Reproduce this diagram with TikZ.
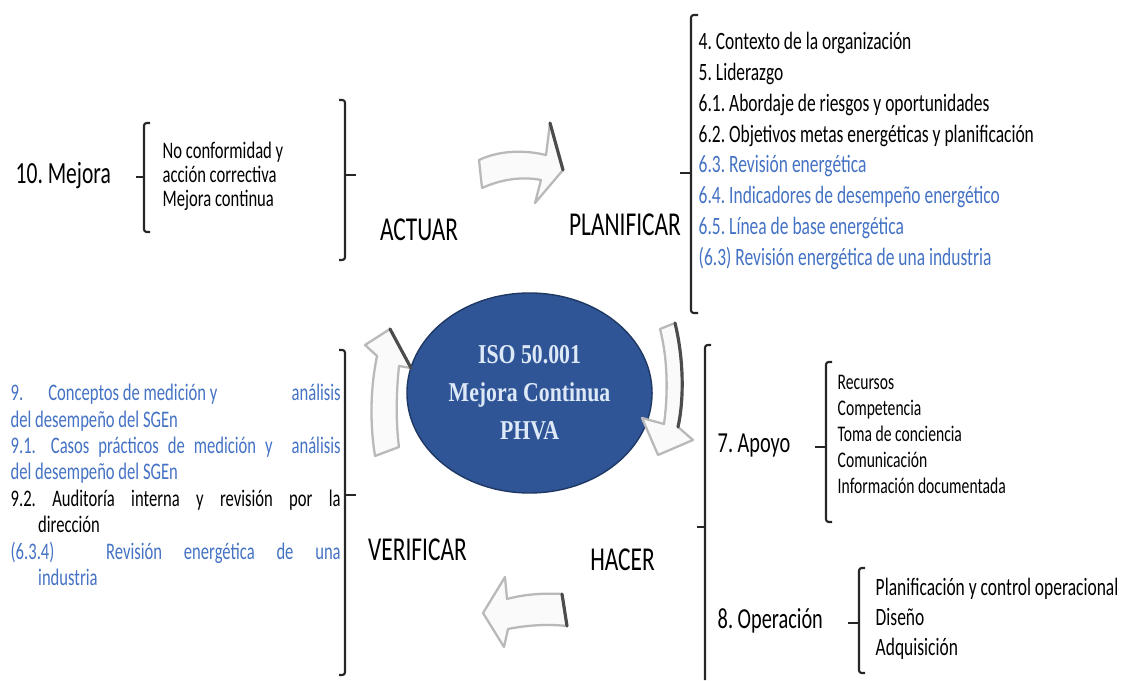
\documentclass[tikz,border=0pt]{standalone}
\usepackage{fontspec}
\setmainfont{Carlito}[FakeStretch=0.7]
\newfontfamily\isofont{Liberation Serif}[FakeStretch=0.8]
\usetikzlibrary{shapes.geometric}
\definecolor{azul}{RGB}{68,114,196}
\definecolor{circulo}{RGB}{47,85,151}
\definecolor{bordo}{RGB}{31,56,100}
\definecolor{testoiso}{RGB}{222,233,248}
\frenchspacing

\begin{document}
\begin{tikzpicture}[thick,
        fase/.style={font=\fontsize{19}{22}\selectfont, inner sep=0pt},
        titolo/.style={font=\fontsize{16.5}{20}\selectfont, anchor=west, inner sep=0pt},
        lista/.style={align=left, anchor=west, inner sep=0pt},
        parentesi/.style={line width=1.2pt, black!85, rounded corners=1.5pt},
        freccia/.style={fill=gray!4, draw=gray!55, line width=1.3pt, line join=round},
        ombra/.style={line width=1.8pt, black!70, line cap=round}]

        \useasboundingbox (0,0) rectangle (22.7,13.6);

        % Ciclo centrale
        \node[ellipse, fill=circulo, draw=bordo, line width=0.8pt, minimum width=4.5cm, minimum height=4.0cm,
              align=center, text=testoiso, font=\isofont\bfseries\fontsize{15.5}{21.6}\selectfont]
              (iso_node) at (10.59, 5.74) {ISO 50.001\\Mejora Continua\\PHVA};

        \node[fase] (actuar_node) at (8.38, 9.0) {ACTUAR};
        \node[fase] (planificar_node) at (12.5, 9.11) {PLANIFICAR};
        \node[fase] (hacer_node) at (12.45, 2.4) {HACER};
        \node[fase] (verificar_node) at (8.35, 2.6) {VERIFICAR};

        % Frecce del ciclo
        \draw[freccia] (9.58,10.4) .. controls (10.0,10.6) and (10.5,10.6) .. (10.92,10.5) -- (11.0,11.14) -- (11.26,10.2)
              -- (10.7,9.54) -- (10.82,10.0) .. controls (10.4,10.08) and (10.0,10.0) .. (9.64,9.84) -- cycle;
        \draw[ombra] (11.0,11.14) -- (11.26,10.2);

        \draw[freccia] (13.2,7.02) -- (13.5,7.14) .. controls (13.68,6.4) and (13.68,5.6) .. (13.56,5.06) -- (13.86,4.8)
              -- (13.16,4.5) -- (12.84,5.24) -- (13.28,5.12) .. controls (13.36,5.7) and (13.36,6.4) .. (13.2,7.02) -- cycle;
        \draw[ombra] (13.5,7.14) .. controls (13.68,6.4) and (13.68,5.6) .. (13.56,5.06);

        \draw[freccia] (9.66,1.34) -- (10.1,2.06) -- (10.14,1.62) .. controls (10.5,1.72) and (10.9,1.74) .. (11.24,1.72)
              -- (11.34,1.08) .. controls (10.96,1.12) and (10.56,1.1) .. (10.16,1.02) -- (10.08,0.66) -- cycle;
        \draw[ombra] (11.24,1.72) -- (11.34,1.08);

        \draw[freccia] (7.8,7.02) -- (8.22,6.24) -- (7.98,6.28) .. controls (7.92,5.7) and (7.92,5.1) .. (7.98,4.66)
              -- (7.5,4.48) .. controls (7.4,5.1) and (7.4,5.8) .. (7.54,6.48) -- (7.3,6.7) -- cycle;
        \draw[ombra] (7.8,7.02) -- (8.22,6.24);

        % Actuar
        \node[titolo, font=\fontsize{17.5}{20}\selectfont] (mejora_node) at (0.3, 10.08) {10. Mejora};
        \node[lista, font=\fontsize{13.5}{13.7}\selectfont] (mejora_lista) at (3.24, 10.08)
              {No conformidad y\\acción correctiva\\Mejora continua};
        \draw[parentesi] (3.0,11.14) -- (2.88,11.14) -- (2.88,8.96) -- (3.0,8.96);
        \draw[parentesi] (2.88,10.06) -- (2.72,10.06);
        \draw[parentesi] (6.78,11.6) -- (6.9,11.6) -- (6.9,8.4) -- (6.78,8.4);
        \draw[parentesi] (6.9,10.1) -- (7.12,10.1);

        % Planificar
        \node[lista, font=\fontsize{14.2}{17.6}\selectfont] (plan_lista) at (13.96, 10.58)
              {4. Contexto de la organización\\
               5. Liderazgo\\
               6.1. Abordaje de riesgos y oportunidades\\
               6.2. Objetivos metas energéticas y planificación\\
               \textcolor{azul}{6.3. Revisión energética}\\
               \textcolor{azul}{6.4. Indicadores de desempeño energético}\\
               \textcolor{azul}{6.5. Línea de base energética}\\
               \textcolor{azul}{(6.3) Revisión energética de una industria}};
        \draw[parentesi] (13.96,13.3) -- (13.82,13.3) -- (13.82,7.34) -- (13.96,7.34);
        \draw[parentesi] (13.82,10.14) -- (13.6,10.14);

        % Hacer
        \draw[parentesi] (14.22,6.7) -- (14.1,6.7) -- (14.1,0);
        \draw[parentesi] (14.1,3.06) -- (13.94,3.06);
        \node[titolo] (apoyo_node) at (14.34, 4.68) {7. Apoyo};
        \node[lista, font=\fontsize{12.7}{14.8}\selectfont] (apoyo_lista) at (16.74, 4.92)
              {Recursos\\Competencia\\Toma de conciencia\\Comunicación\\Información documentada};
        \draw[parentesi] (16.64,6.36) -- (16.52,6.36) -- (16.52,3.16) -- (16.64,3.16);
        \draw[parentesi] (16.52,4.66) -- (16.3,4.66);
        \node[titolo] (operacion_node) at (14.34, 1.18) {8. Operación};
        \node[lista, font=\fontsize{14.2}{17}\selectfont] (operacion_lista) at (17.5, 1.22)
              {Planificación y control operacional\\Diseño\\Adquisición};
        \draw[parentesi] (17.3,2.24) -- (17.18,2.24) -- (17.18,0.14) -- (17.3,0.14);
        \draw[parentesi] (17.18,1.14) -- (16.96,1.14);

        % Verificar
        \node[lista, font=\fontsize{13.5}{15}\selectfont] (verif_lista) at (0.2, 3.9)
              {\textcolor{azul}{\makebox[6.6cm][s]{9.\hspace{0.5cm}Conceptos de medición y\hfill análisis}}\\
               \textcolor{azul}{del desempeño del SGEn}\\
               \textcolor{azul}{\makebox[6.6cm][s]{9.1.\hspace{0.3cm}Casos prácticos de medición y\hspace{0.2cm} análisis}}\\
               \textcolor{azul}{del desempeño del SGEn}\\
               \makebox[6.6cm][s]{9.2. Auditoría interna y revisión por la}\\
               \hspace*{0.55cm}dirección\\
               \textcolor{azul}{\makebox[6.6cm][s]{(6.3.4)\hspace{0.6cm} Revisión energética de una}}\\
               \textcolor{azul}{\hspace*{0.55cm}industria}};
        \draw[parentesi] (6.78,6.6) -- (6.9,6.6) -- (6.9,0.1) -- (6.78,0.1);
        \draw[parentesi] (6.9,3.7) -- (7.12,3.7);
    \end{tikzpicture}
\end{document}
